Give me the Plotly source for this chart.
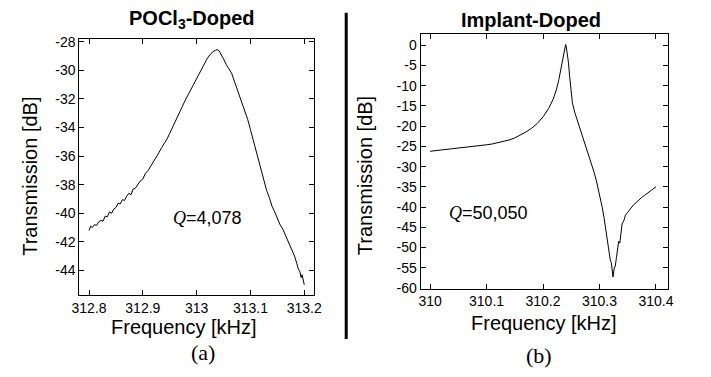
import plotly.graph_objects as go

# ---- Panel (a): POCl3-doped ----
freq_a = [312.800, 312.803, 312.806, 312.810, 312.814, 312.818, 312.822, 312.826, 312.830, 312.834,
          312.838, 312.842, 312.846, 312.850, 312.854, 312.858, 312.862, 312.866, 312.870, 312.874,
          312.878, 312.882, 312.886, 312.890, 312.895, 312.900, 312.905, 312.910, 312.915, 312.920,
          312.925, 312.930, 312.935, 312.940, 312.945, 312.950, 312.955, 312.960, 312.965, 312.970,
          312.975, 312.980, 312.985, 312.990, 312.995, 313.000, 313.005, 313.010, 313.015, 313.020,
          313.025, 313.030, 313.035, 313.038, 313.042, 313.046, 313.050, 313.055, 313.060, 313.065,
          313.070, 313.075, 313.080, 313.085, 313.090, 313.095, 313.100, 313.105, 313.110, 313.115,
          313.120, 313.125, 313.130, 313.135, 313.140, 313.145, 313.150, 313.155, 313.160, 313.165,
          313.170, 313.174, 313.178, 313.182, 313.186, 313.189, 313.192, 313.194, 313.196, 313.198,
          313.200]
db_a = [-41.2, -40.9, -41.0, -40.8, -40.85, -40.6, -40.5, -40.55, -40.2, -40.25,
        -39.9, -40.0, -39.7, -39.6, -39.3, -39.35, -39.05, -39.1, -38.8, -38.6,
        -38.7, -38.3, -38.25, -38.05, -37.75, -37.6, -37.2, -37.0, -36.7, -36.4,
        -36.1, -35.75, -35.4, -35.1, -34.8, -34.4, -34.0, -33.5, -33.1, -32.75,
        -32.4, -32.0, -31.65, -31.3, -30.95, -30.6, -30.2, -29.8, -29.45, -29.15,
        -28.9, -28.7, -28.6, -28.55, -28.65, -28.9, -29.2, -29.6, -29.95, -30.2,
        -30.75, -31.3, -31.85, -32.3, -32.8, -33.45, -34.15, -34.85, -35.5, -36.3,
        -37.0, -37.75, -38.4, -38.9, -39.5, -39.9, -40.35, -40.8, -41.1, -41.55,
        -42.0, -42.3, -42.75, -43.0, -43.5, -43.9, -44.1, -44.5, -44.3, -44.8,
        -45.0]

# ---- Panel (b): implant-doped ----
freq_b = [310.000, 310.010, 310.020, 310.030, 310.040, 310.050, 310.060, 310.070, 310.080, 310.090,
          310.100, 310.110, 310.120, 310.130, 310.140, 310.150, 310.160, 310.170, 310.180, 310.190,
          310.200, 310.210, 310.218, 310.224, 310.228, 310.232, 310.235, 310.237, 310.239, 310.240,
          310.241, 310.243, 310.245, 310.247, 310.249, 310.252, 310.256, 310.260, 310.265, 310.270,
          310.275, 310.280, 310.285, 310.290, 310.295, 310.298, 310.302, 310.305, 310.308, 310.311,
          310.313, 310.315, 310.317, 310.319, 310.321, 310.323, 310.324, 310.326, 310.328, 310.330,
          310.332, 310.334, 310.336, 310.338, 310.340, 310.343, 310.346, 310.350, 310.355, 310.360,
          310.365, 310.370, 310.375, 310.380, 310.385, 310.390, 310.395, 310.400]
db_b = [-26.2, -26.05, -25.9, -25.75, -25.6, -25.5, -25.35, -25.2, -25.0, -24.85,
        -24.6, -24.4, -24.1, -23.8, -23.4, -22.9, -22.2, -21.4, -20.5, -19.3,
        -17.7, -15.6, -13.3, -10.8, -8.5, -5.8, -3.5, -1.7, -0.4, 0.2,
        -0.2, -1.8, -4.2, -7.5, -11.0, -14.2, -16.5, -18.2, -20.5, -23.0,
        -25.0, -27.0, -29.0, -31.2, -33.8, -35.5, -37.8, -40.2, -42.6, -45.3,
        -47.2, -49.8, -51.3, -53.0, -53.8, -55.6, -57.3, -55.2, -54.6, -52.5,
        -50.8, -48.5, -48.9, -45.5, -44.2, -43.4, -42.0, -41.3, -40.3, -39.5,
        -38.9, -38.2, -37.6, -37.1, -36.6, -36.0, -35.5, -35.0]

ticks_xa = [312.8, 312.9, 313.0, 313.1, 313.2]
ticklabels_xa = ["312.8", "312.9", "313", "313.1", "313.2"]
ticks_ya = [-28, -30, -32, -34, -36, -38, -40, -42, -44]
ticks_xb = [310.0, 310.1, 310.2, 310.3, 310.4]
ticklabels_xb = ["310", "310.1", "310.2", "310.3", "310.4"]
ticks_yb = [0, -5, -10, -15, -20, -25, -30, -35, -40, -45, -50, -55, -60]

W, H = 711, 377
SANS = "Liberation Sans, Arial, sans-serif"
SERIF = "Liberation Serif, Times New Roman, serif"

fig = go.Figure()
fig.add_trace(go.Scatter(x=freq_a, y=db_a, mode="lines", line=dict(color="black", width=1),
                         xaxis="x", yaxis="y", showlegend=False))
fig.add_trace(go.Scatter(x=freq_b, y=db_b, mode="lines", line=dict(color="black", width=1),
                         xaxis="x2", yaxis="y2", showlegend=False))

ax_common = dict(showline=True, linecolor="black", linewidth=1, mirror="ticks",
                 ticks="inside", ticklen=5, tickcolor="black", tickwidth=1,
                 showgrid=False, zeroline=False,
                 tickfont=dict(family=SANS, size=14, color="black"))

fig.update_layout(
    width=W, height=H, margin=dict(l=0, r=0, t=0, b=0),
    paper_bgcolor="white", plot_bgcolor="white",
    xaxis=dict(domain=[73 / W, 313 / W], range=[312.782, 313.218], anchor="y",
               tickvals=ticks_xa, ticktext=ticklabels_xa, **ax_common),
    yaxis=dict(domain=[1 - 300 / H, 1 - 35 / H], range=[-45.75, -27.8], anchor="x",
               tickvals=ticks_ya, ticktext=[str(v) for v in ticks_ya], **ax_common),
    xaxis2=dict(domain=[422 / W, 675 / W], range=[309.983, 310.421], anchor="y2",
                tickvals=ticks_xb, ticktext=ticklabels_xb, **ax_common),
    yaxis2=dict(domain=[1 - 293 / H, 1 - 30 / H], range=[-60.2, 2.8], anchor="x2",
                tickvals=ticks_yb, ticktext=[str(v) for v in ticks_yb], **ax_common),
)

def ann(text, x, y, size, family=SANS, angle=0, xref="paper", yref="paper"):
    fig.add_annotation(text=text, x=x, y=y, xref=xref, yref=yref, showarrow=False,
                       textangle=angle, xanchor="center", yanchor="middle",
                       font=dict(family=family, size=size, color="black"))

ann("<b>POCl<sub>3</sub>-Doped</b>", 188 / W, 1 - 15 / H, 20)
ann("<b>Implant-Doped</b>", 535 / W, 1 - 15 / H, 20)
ann("Frequency [kHz]", 180 / W, 1 - 333 / H, 20)
ann("Frequency [kHz]", 548 / W, 1 - 328 / H, 20)
ann("Transmission [dB]", 23 / W, 1 - 177 / H, 20, angle=-90)
ann("Transmission [dB]", 366 / W, 1 - 176 / H, 20, angle=-90)
ann("(a)", 200 / W, 1 - 359 / H, 22, family=SERIF)
ann("(b)", 543 / W, 1 - 362 / H, 22, family=SERIF)
QSPAN = "<span style='font-family:Liberation Serif'><i>Q</i></span>"
ann(QSPAN + "=4,078", 313.021, -40.3, 18, xref="x", yref="y")
ann(QSPAN + "=50,050", 310.103, -41.4, 18, xref="x2", yref="y2")

fig.add_shape(type="line", xref="paper", yref="paper", x0=346 / W, x1=346 / W,
              y0=1 - 8 / H, y1=1 - 345 / H, line=dict(color="black", width=3))

fig.write_html("out.html")
